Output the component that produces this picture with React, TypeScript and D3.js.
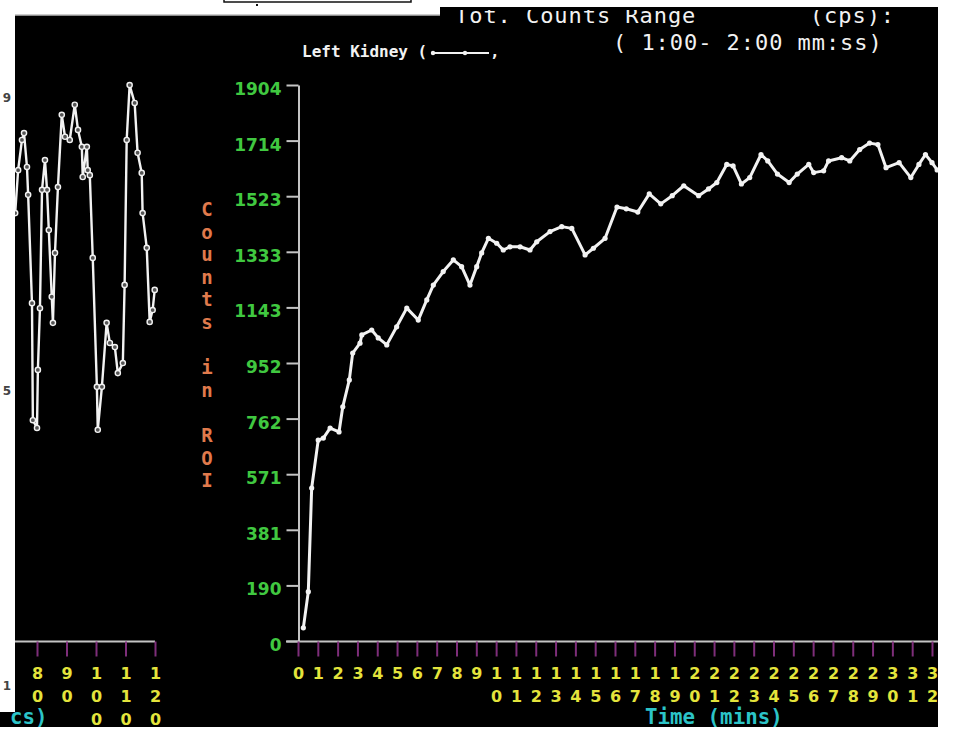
import * as d3 from "d3";
import { useEffect, useRef } from "react";

// left kidney renogram: counts in ROI against time (mins)
const mainTimes = [
  0.27, 0.52, 0.69, 1.02, 1.28, 1.62, 2.07, 2.26, 2.59, 2.76, 3.13, 3.22, 3.72,
  4.05, 4.48, 4.98, 5.49, 6.07, 6.5, 6.83, 7.33, 7.84, 8.26, 8.68, 9.02, 9.27,
  9.61, 10.03, 10.36, 10.7, 11.21, 11.71, 12.05, 12.72, 13.31, 13.82, 14.49,
  14.91, 15.5, 16.1, 16.57, 17.15, 17.73, 18.31, 18.89, 19.47, 20.22, 20.72,
  21.14, 21.64, 21.96, 22.38, 22.8, 23.37, 23.71, 24.2, 24.79, 25.2, 25.78,
  26.03, 26.53, 26.78, 27.44, 27.85, 28.35, 28.85, 29.27, 29.68, 30.34, 30.93,
  31.34, 31.67, 32.0, 32.26,
];
const mainCounts = [
  45, 169, 524, 688, 695, 729, 716, 802, 894, 986, 1020, 1048, 1065, 1038, 1014,
  1076, 1140, 1099, 1168, 1219, 1265, 1305, 1282, 1219, 1282, 1329, 1379, 1362,
  1339, 1350, 1350, 1339, 1367, 1402, 1419, 1413, 1322, 1345, 1379, 1486, 1480,
  1469, 1531, 1497, 1525, 1559, 1525, 1548, 1570, 1632, 1627, 1565, 1587, 1666,
  1644, 1599, 1570, 1599, 1632, 1604, 1610, 1644, 1655, 1644, 1683, 1705, 1700,
  1621, 1638, 1587, 1632, 1666, 1638, 1613,
];

// cropped panel on the left (time in secs)
const leftSecs = [
  72.6, 73.6, 74.9, 75.6, 76.6, 77.0, 78.3, 78.6, 80.0, 80.3, 81.0, 81.7, 82.7,
  83.4, 84.0, 85.0, 85.4, 86.1, 87.1, 88.4, 89.5, 91.1, 92.8, 93.9, 95.2, 95.5,
  96.9, 97.2, 97.9, 98.9, 100.3, 100.6, 102.0, 103.6, 104.7, 106.4, 107.4,
  109.1, 109.7, 110.4, 111.4, 113.1, 114.1, 115.5, 115.8, 117.2, 118.2, 119.2,
  119.9,
];
const leftCounts = [
  93.6, 103.0, 109.6, 111.1, 103.7, 97.6, 73.9, 48.3, 46.6, 59.3, 72.8, 98.7,
  105.2, 98.7, 89.9, 75.3, 69.6, 84.9, 99.3, 115.1, 110.3, 109.6, 117.3, 111.8,
  108.1, 101.5, 108.1, 103.0, 101.9, 83.8, 55.6, 46.2, 55.6, 69.6, 65.2, 64.3,
  58.6, 60.8, 77.9, 109.6, 121.6, 117.7, 106.8, 102.4, 93.6, 86.0, 69.8, 72.4,
  76.8,
];

const yTickLabels = ["0", "190", "381", "571", "762", "952", "1143", "1333", "1523", "1714", "1904"];
const minuteLabels = [
  "0", "1", "2", "3", "4", "5", "6", "7", "8", "9", "10", "11", "12", "13", "14", "15", "16",
  "17", "18", "19", "20", "21", "22", "23", "24", "25", "26", "27", "28", "29", "30", "31", "32",
];
const leftSecLabels = ["80", "90", "100", "110", "120"];
const leftEdgeLabels = ["9", "5"]; // last digits of 119 / 55, rest is cut off
const leftEdgeValues = [119, 55];

const WHITE = "#f2f2f2";
const GREEN = "#40c840";
const YELLOW = "#e4e43c";
const CYAN = "#2cc4c8";
const ORANGE = "#e07a4c";
const PURPLE = "#7e2e7a";
const GRAY = "#c4c4c4";
const MONO = "'DejaVu Sans Mono', monospace";
const SANS = "'DejaVu Sans', sans-serif";

const App = () => {
  const svgRef = useRef<SVGSVGElement>(null);

  useEffect(() => {
    const svg = d3.select(svgRef.current);
    svg.selectAll("*").remove();

    // scales
    const x = d3.scaleLinear().domain([0, 32]).range([298, 932]);
    const y = d3.scaleLinear().domain([0, 1904]).range([641, 85]);
    const lx = d3.scaleLinear().domain([80, 120]).range([37, 155]);
    const ly = d3.scaleLinear().domain([0, 119]).range([641, 97]);

    // screen background
    svg.append("rect").attr("width", 955).attr("height", 731).attr("fill", "#fff");
    svg.append("rect").attr("x", 15).attr("y", 15).attr("width", 923).attr("height", 712).attr("fill", "#000");
    svg.append("rect").attr("x", 440).attr("y", 7).attr("width", 498).attr("height", 9).attr("fill", "#000");
    svg.append("rect").attr("x", 0).attr("y", 712).attr("width", 15).attr("height", 15).attr("fill", "#000");
    svg.append("line").attr("x1", 15).attr("x2", 440).attr("y1", 15).attr("y2", 15).attr("stroke", "#bbb").attr("stroke-width", 1.5);
    svg.append("rect").attr("x", 224).attr("y", -3).attr("width", 187).attr("height", 5)
      .attr("fill", "#fff").attr("stroke", "#111").attr("stroke-width", 1.5);
    svg.append("rect").attr("x", 256).attr("y", 4).attr("width", 2).attr("height", 2).attr("fill", "#111");

    const defs = svg.append("defs");
    defs.append("clipPath").attr("id", "clipLeft").append("rect")
      .attr("x", 15).attr("y", 15).attr("width", 150).attr("height", 712);
    defs.append("clipPath").attr("id", "clipMain").append("rect")
      .attr("x", 290).attr("y", 15).attr("width", 648).attr("height", 712);
    defs.append("clipPath").attr("id", "clipTop").append("rect")
      .attr("x", 440).attr("y", 10).attr("width", 498).attr("height", 60);

    // ---- left (cropped) panel ----
    leftEdgeLabels.forEach((t, i) => {
      svg.append("text").attr("x", 7).attr("y", ly(leftEdgeValues[i]) + 5)
        .attr("text-anchor", "middle").attr("font-family", SANS).attr("font-weight", "bold")
        .attr("font-size", 12).attr("fill", "#444").text(t);
    });
    svg.append("text").attr("x", 7).attr("y", 690).attr("text-anchor", "middle")
      .attr("font-family", SANS).attr("font-weight", "bold").attr("font-size", 12).attr("fill", "#444").text("1");

    svg.append("line").attr("x1", 15).attr("x2", 155).attr("y1", 641.5).attr("y2", 641.5)
      .attr("stroke", GRAY).attr("stroke-width", 2);

    const leftAxis = svg.append("g").attr("transform", "translate(0,641.5)")
      .call(d3.axisBottom(lx).tickValues([80, 90, 100, 110, 120]).tickSize(15).tickFormat(() => ""));
    leftAxis.select(".domain").remove();
    leftAxis.selectAll(".tick line").attr("stroke", PURPLE).attr("stroke-width", 2);
    leftAxis.selectAll(".tick text").each(function (_, i) {
      const t = d3.select(this).attr("dy", null).attr("y", null)
        .attr("font-family", SANS).attr("font-weight", "bold").attr("font-size", 16).attr("fill", YELLOW);
      leftSecLabels[i].split("").forEach((ch, k) => {
        t.append("tspan").attr("x", 0).attr("y", 37 + k * 23).text(ch);
      });
    });

    const leftPts = leftSecs.map((s, i) => [s, leftCounts[i]]);
    const lg = svg.append("g").attr("clip-path", "url(#clipLeft)");
    lg.append("path").datum(leftPts)
      .attr("d", d3.line().x((d) => lx(d[0])).y((d) => ly(d[1])))
      .attr("fill", "none").attr("stroke", WHITE).attr("stroke-width", 2.4).attr("stroke-linejoin", "round");
    lg.selectAll("circle").data(leftPts).enter().append("circle")
      .attr("cx", (d) => lx(d[0])).attr("cy", (d) => ly(d[1])).attr("r", 2.6)
      .attr("fill", "#555").attr("stroke", WHITE).attr("stroke-width", 1.4);

    svg.append("text").attr("x", 10).attr("y", 724).attr("font-family", MONO).attr("font-weight", "bold")
      .attr("font-size", 20.8).attr("fill", CYAN).text("cs)");

    // ---- main panel ----
    svg.append("line").attr("x1", 286).attr("x2", 938).attr("y1", 641.5).attr("y2", 641.5)
      .attr("stroke", GRAY).attr("stroke-width", 2);

    const yAxis = svg.append("g").attr("transform", "translate(298.5,0)")
      .call(
        d3.axisLeft(y)
          .tickValues(yTickLabels.map((_, i) => (i * 1904) / 10))
          .tickFormat((_, i) => yTickLabels[i])
          .tickSize(12).tickSizeOuter(0).tickPadding(5)
      );
    yAxis.select(".domain").attr("stroke", GRAY).attr("stroke-width", 2);
    yAxis.selectAll(".tick line").attr("stroke", GRAY).attr("stroke-width", 2);
    yAxis.selectAll(".tick text").attr("y", 4).attr("fill", GREEN)
      .attr("font-family", SANS).attr("font-weight", "bold").attr("font-size", 17);

    const xAxis = svg.append("g").attr("transform", "translate(0,641.5)")
      .call(d3.axisBottom(x).tickValues(minuteLabels.map((_, i) => i)).tickSize(15).tickFormat(() => ""));
    xAxis.select(".domain").remove();
    xAxis.selectAll(".tick line").attr("stroke", PURPLE).attr("stroke-width", 2);
    xAxis.selectAll(".tick text").each(function (_, i) {
      const t = d3.select(this).attr("dy", null).attr("y", null)
        .attr("font-family", SANS).attr("font-weight", "bold").attr("font-size", 16).attr("fill", YELLOW);
      minuteLabels[i].split("").forEach((ch, k) => {
        t.append("tspan").attr("x", 0).attr("y", 37 + k * 23).text(ch);
      });
    });

    // curve
    const pts = mainTimes.map((t, i) => [t, mainCounts[i]]);
    const mg = svg.append("g").attr("clip-path", "url(#clipMain)");
    mg.append("path").datum(pts)
      .attr("d", d3.line().x((d) => x(d[0])).y((d) => y(d[1])))
      .attr("fill", "none").attr("stroke", WHITE).attr("stroke-width", 3).attr("stroke-linejoin", "round");
    mg.selectAll("circle").data(pts).enter().append("circle")
      .attr("cx", (d) => x(d[0])).attr("cy", (d) => y(d[1])).attr("r", 2.6).attr("fill", WHITE);

    // y title, one letter per row
    "Counts in ROI".split("").forEach((ch, k) => {
      if (ch === " ") return;
      svg.append("text").attr("x", 207).attr("y", 216 + k * 22.6).attr("text-anchor", "middle")
        .attr("font-family", MONO).attr("font-weight", "bold").attr("font-size", 19)
        .attr("fill", ORANGE).text(ch);
    });

    svg.append("text").attr("x", 645).attr("y", 724).attr("font-family", MONO).attr("font-weight", "bold")
      .attr("font-size", 20.8).attr("fill", CYAN).text("Time (mins)");

    // header
    svg.append("text").attr("x", 455).attr("y", 23).attr("clip-path", "url(#clipTop)")
      .attr("font-family", MONO).attr("font-size", 22).attr("letter-spacing", 0.95).attr("fill", WHITE)
      .style("white-space", "pre")
      .text("Tot. Counts Range        (cps):");
    svg.append("text").attr("x", 613).attr("y", 50)
      .attr("font-family", MONO).attr("font-size", 22).attr("letter-spacing", 0.95).attr("fill", WHITE)
      .style("white-space", "pre").text("( 1:00- 2:00 mm:ss)");

    // legend
    svg.append("text").attr("x", 302).attr("y", 57).attr("font-family", MONO).attr("font-weight", "bold")
      .attr("font-size", 16).attr("fill", WHITE).style("white-space", "pre").text("Left Kidney (");
    svg.append("line").attr("x1", 431).attr("x2", 489).attr("y1", 53).attr("y2", 53)
      .attr("stroke", WHITE).attr("stroke-width", 2);
    [433, 465].forEach((cx) => {
      svg.append("circle").attr("cx", cx).attr("cy", 53).attr("r", 2.2).attr("fill", WHITE);
    });
    svg.append("text").attr("x", 490).attr("y", 57).attr("font-family", MONO).attr("font-weight", "bold")
      .attr("font-size", 16).attr("fill", WHITE).text(",");
  }, []);

  return (
    <svg
      ref={svgRef}
      width={955}
      height={731}
      style={{ position: "absolute", left: 0, top: 0, display: "block" }}
    ></svg>
  );
};

export default App;
